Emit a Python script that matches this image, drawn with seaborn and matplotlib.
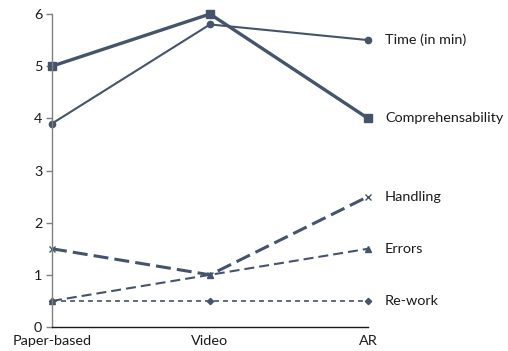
import matplotlib
matplotlib.use("Agg")
import matplotlib.pyplot as plt
import seaborn as sns
import pandas as pd

# Data
conditions = ["Paper-based", "Video", "AR"]
time_in_min = [3.9, 5.8, 5.5]
comprehensability = [5.0, 6.0, 4.0]
handling = [1.5, 1.0, 2.5]
errors = [0.5, 1.0, 1.5]
rework = [0.5, 0.5, 0.5]

series = {
    "Time (in min)": time_in_min,
    "Comprehensability": comprehensability,
    "Handling": handling,
    "Errors": errors,
    "Re-work": rework,
}

rows = []
for name, vals in series.items():
    for c, v in zip(conditions, vals):
        rows.append({"condition": c, "value": v, "measure": name})
df = pd.DataFrame(rows)

sns.set_theme(style="white")
plt.rcParams["font.family"] = ["Lato", "DejaVu Sans"]

color = "#44546A"
styles = {
    "Time (in min)": dict(lw=1.5, ls="-", marker="o", ms=4.5),
    "Comprehensability": dict(lw=2.4, ls="-", marker="s", ms=5.5),
    "Handling": dict(lw=2.2, ls=(0, (4.9, 2.0)), marker="x", ms=5),
    "Errors": dict(lw=1.5, ls=(0, (4.8, 2.4)), marker="^", ms=4.5),
    "Re-work": dict(lw=1.2, ls=(0, (3.0, 2.4)), marker="D", ms=3.2),
}

fig = plt.figure(figsize=(5.08, 3.51), dpi=100)
ax = fig.add_axes([52 / 508, 24 / 351, 316 / 508, 313 / 351])

for name in series:
    st = styles[name]
    sub = df[df["measure"] == name]
    sns.lineplot(data=sub, x="condition", y="value", ax=ax, color=color,
                 linewidth=st["lw"], linestyle=st["ls"], marker=st["marker"],
                 markersize=st["ms"], markeredgecolor=color, markerfacecolor=color,
                 markeredgewidth=1.0, clip_on=False, legend=False)
    ax.text(2 + 0.107, series[name][-1], name, va="center", ha="left",
            fontsize=10.4, color="#1a1a1a")

ax.set_xlim(0, 2)
ax.set_ylim(0, 6)
ax.set_yticks(range(0, 7))
ax.set_xlabel("")
ax.set_ylabel("")
for s in ["top", "right"]:
    ax.spines[s].set_visible(False)
ax.spines["left"].set_color("#808080")
ax.spines["bottom"].set_color("#1a1a1a")
ax.spines["left"].set_linewidth(1.0)
ax.spines["bottom"].set_linewidth(1.0)
ax.tick_params(axis="y", which="major", left=True, length=4, width=1.0,
               color="#808080", labelsize=10.4, labelcolor="#1a1a1a", pad=3)
ax.tick_params(axis="x", bottom=False, labelsize=10.4, labelcolor="#1a1a1a", pad=0)

fig.savefig("out.png", dpi=100)
